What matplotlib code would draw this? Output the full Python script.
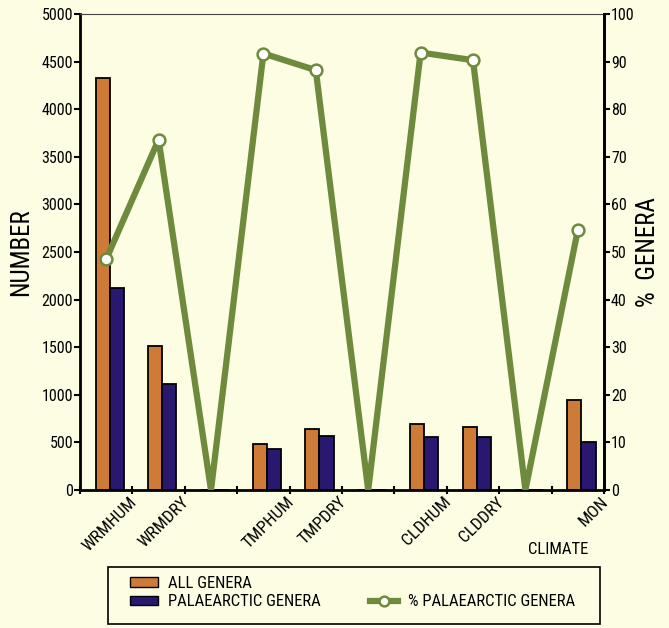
import matplotlib
matplotlib.use("Agg")
import matplotlib.pyplot as plt
from matplotlib.patches import Patch, Rectangle
from matplotlib.lines import Line2D
from matplotlib import font_manager
import numpy as np

# try to find a condensed sans-serif font (reference uses an Arial-Narrow-like face)
def _is_narrow(f):
    st = f.stretch
    if isinstance(st, str):
        narrow = st in ('condensed', 'semi-condensed', 'extra-condensed')
    else:
        narrow = st < 500
    return narrow or 'Narrow' in f.name or 'Condensed' in f.name

def _is_regular(f):
    wt = f.weight
    if isinstance(wt, str):
        ok = wt in ('normal', 'regular', 'book', 400)
    else:
        ok = wt == 400
    return ok and f.style == 'normal'

prefs = ['Liberation Sans Narrow', 'Arial Narrow', 'Nimbus Sans Narrow', 'Roboto Condensed',
         'Liberation Sans', 'Roboto', 'Noto Sans', 'Open Sans', 'DejaVu Sans']
chosen = None
for p in prefs:
    for f in font_manager.fontManager.ttflist:
        if f.name == p and _is_narrow(f) and _is_regular(f):
            chosen = f
            break
    if chosen:
        break

if chosen is not None:
    plt.rcParams['font.family'] = [chosen.name, 'Liberation Sans', 'DejaVu Sans']
    if not ('Narrow' in chosen.name or 'Condensed' in chosen.name):
        plt.rcParams['font.stretch'] = chosen.stretch
    sc = 1.0
else:
    plt.rcParams['font.family'] = ['Liberation Sans', 'DejaVu Sans']
    sc = 0.84

categories = ["WRMHUM", "WRMDRY", "", "TMPHUM", "TMPDRY", "", "CLDHUM", "CLDDRY", "", "MON"]
all_genera = [4330, 1510, 0, 480, 645, 0, 690, 665, 0, 950]
palaearctic_genera = [2120, 1115, 0, 430, 562, 0, 560, 555, 0, 508]
pct_palaearctic = [48.5, 73.6, 0, 91.7, 88.2, 0, 91.9, 90.3, 0, 54.6]

bg = "#FDFDE4"
orange = "#CD7B37"
navy = "#2A1770"
green = "#6E8B3D"

fig = plt.figure(figsize=(6.69, 6.28), dpi=100, facecolor=bg)
ax = fig.add_axes([80/669, 138/628, 524/669, 476/628])
ax.set_facecolor(bg)

x = np.arange(len(categories))
w = 0.27
off = 0.07
ax.bar(x + off - w/2, all_genera, width=w, color=orange, edgecolor="black", linewidth=1.3, zorder=2)
ax.bar(x + off + w/2, palaearctic_genera, width=w, color=navy, edgecolor="black", linewidth=1.3, zorder=2)

ax.set_xlim(-0.5, len(categories) - 0.5)
ax.set_ylim(0, 5000)
ax.set_yticks(np.arange(0, 5001, 500))
ax.set_ylabel("NUMBER", fontsize=18*sc, labelpad=6)

ax.set_xticks(np.arange(-0.5, len(categories) + 0.5, 1))
ax.set_xticklabels([])
ax.tick_params(axis='x', direction='inout', length=6, width=1.5)
ax.tick_params(axis='y', direction='out', length=4, width=1.5, labelsize=11.5*sc, pad=1)
for i, c in enumerate(categories):
    if c:
        ax.text(i + 0.44, -45, c, rotation=45, ha='right', va='top',
                rotation_mode='anchor', fontsize=12.5*sc, transform=ax.transData)

for s in ['left', 'right', 'bottom']:
    ax.spines[s].set_linewidth(2)
ax.spines['top'].set_linewidth(0.8)
ax.spines['top'].set_color('#444444')

ax2 = ax.twinx()
ax2.set_ylim(0, 100)
ax2.set_yticks(np.arange(0, 101, 10))
ax2.tick_params(axis='y', direction='out', length=4, width=1.5, labelsize=11.5*sc, pad=1)
ax2.spines['right'].set_linewidth(2)
ax2.spines['left'].set_visible(False)
ax2.spines['top'].set_visible(False)
ax2.spines['bottom'].set_visible(False)
ax2.set_ylabel("%  GENERA", fontsize=18*sc, labelpad=1)
mk = [i for i, c in enumerate(categories) if c]
ax2.plot(x, pct_palaearctic, color=green, linewidth=4.5, marker='o', markevery=mk,
         markersize=8.5, markerfacecolor='white', markeredgecolor=green, markeredgewidth=1.8,
         solid_joinstyle='bevel', zorder=3)

fig.text(558/669, 1 - 549/628, "CLIMATE", fontsize=12*sc, ha='center', va='center')

# legend frame
fig.patches.append(Rectangle((108/669, 1 - 624/628), 492/669, 57/628, transform=fig.transFigure,
                             facecolor=bg, edgecolor='black', linewidth=1.2, zorder=0))

handles = [Patch(facecolor=orange, edgecolor='black', linewidth=1),
           Patch(facecolor=navy, edgecolor='black', linewidth=1),
           Patch(facecolor='none', edgecolor='none'),
           Line2D([], [], color=green, linewidth=4.5, marker='o', markersize=7,
                  markerfacecolor='white', markeredgecolor=green, markeredgewidth=1.8)]
labels = ["ALL GENERA", "PALAEARCTIC GENERA", "", "% PALAEARCTIC GENERA"]
fs = 12 * sc
leg = fig.legend(handles, labels, ncol=2, loc='upper left',
                 bbox_to_anchor=(130/669, 1 - 576/628),
                 frameon=False, fontsize=fs, handlelength=28/(fs*100/72),
                 handleheight=8/(fs*100/72),
                 handletextpad=10/(fs*100/72), labelspacing=0.2,
                 columnspacing=49/(fs*100/72), borderpad=0, borderaxespad=0)

fig.savefig("out.png", dpi=100, facecolor=bg)
